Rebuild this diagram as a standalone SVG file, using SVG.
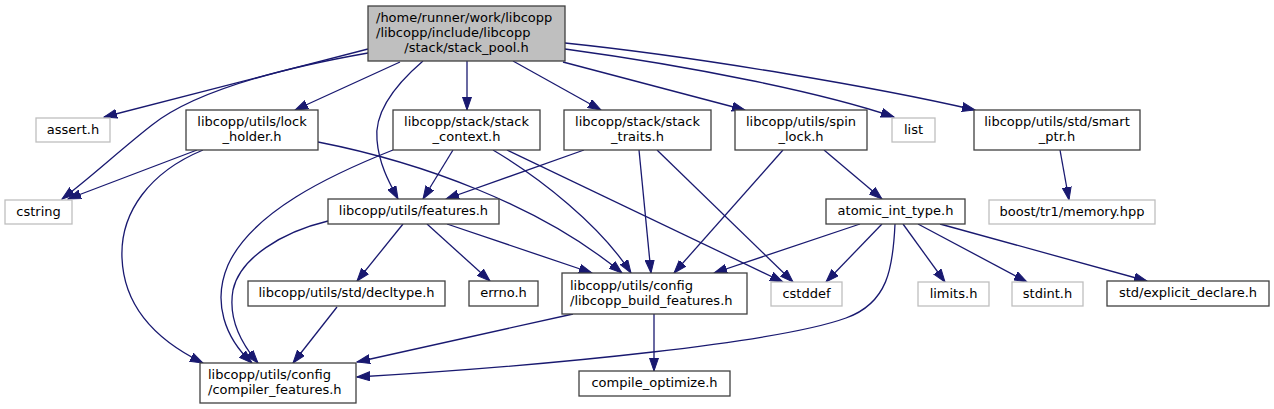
<svg xmlns="http://www.w3.org/2000/svg" width="1274" height="409" viewBox="0 0 1274 409">
<style>
.n rect{fill:#ffffff;stroke:#404040;stroke-width:1.3}
.g rect{fill:#ffffff;stroke:#bfbfbf;stroke-width:1.3}
.r rect{fill:#bfbfbf;stroke:#404040;stroke-width:1.3}
text{font-family:"DejaVu Sans",sans-serif;font-size:13px;fill:#000}
.c{text-anchor:middle}
#edges path{fill:none;stroke:#191970;stroke-width:1.3;marker-end:url(#a)}
</style>
<defs>
<marker id="a" markerWidth="14" markerHeight="10" refX="13" refY="5" orient="auto" markerUnits="userSpaceOnUse">
<path d="M0,0.5 L13,5 L0,9.5 z" fill="#191970" stroke="#191970" stroke-width="1"/>
</marker>
</defs>
<rect width="1274" height="409" fill="#fff"/>
<g id="edges">
<path d="M368,49 L104,117"/>
<path d="M368,53 C260,72 190,95 152,125 C120,150 90,178 62,199"/>
<path d="M400,62 L295,110"/>
<path d="M423,61 C395,85 374,112 377,140 C379,165 390,184 398,199"/>
<path d="M467,61 L467,110"/>
<path d="M513,61 L601,110"/>
<path d="M563,62 L745,110"/>
<path d="M565,49 C690,66 820,92 894,117"/>
<path d="M565,43 C700,57 880,88 975,110"/>
<path d="M197,150 L68,199"/>
<path d="M203,150 C150,172 120,212 122,258 C124,310 160,342 203,363"/>
<path d="M318,142 C420,162 540,205 622,273"/>
<path d="M453,150 L423,199"/>
<path d="M393,150 C330,175 252,212 228,265 C212,302 225,338 252,363"/>
<path d="M493,150 C540,178 600,225 631,273"/>
<path d="M507,150 L783,282"/>
<path d="M584,150 L446,199"/>
<path d="M639,150 L651,273"/>
<path d="M657,150 L793,282"/>
<path d="M783,150 L674,273"/>
<path d="M824,150 L882,199"/>
<path d="M328,221 C282,232 240,258 233,290 C228,318 240,342 258,363"/>
<path d="M403,224 L357,281"/>
<path d="M427,224 L490,281"/>
<path d="M447,224 L592,273"/>
<path d="M337,307 L293,363"/>
<path d="M573,314 L357,362"/>
<path d="M654,314 L654,371"/>
<path d="M860,224 L714,273"/>
<path d="M882,224 L826,282"/>
<path d="M895,224 C893,268 888,303 846,318 C780,342 560,365 357,377"/>
<path d="M903,224 L945,282"/>
<path d="M918,224 L1027,282"/>
<path d="M940,224 L1147,281"/>
<path d="M1060,150 L1069,200"/>
</g>
<g id="root" class="r"><rect x="368" y="6" width="197" height="55"/><text x="376" y="22">/home/runner/work/libcopp</text><text x="376" y="37">/libcopp/include/libcopp</text><text class="c" x="466.5" y="52">/stack/stack_pool.h</text></g>
<g id="assert" class="g"><rect x="36" y="118" width="74" height="24"/><text class="c" x="73" y="134">assert.h</text></g>
<g id="lock_holder" class="n"><rect x="186" y="110" width="132" height="40"/><text class="c" x="252" y="126">libcopp/utils/lock</text><text class="c" x="252" y="141">_holder.h</text></g>
<g id="cstring" class="g"><rect x="5" y="200" width="67" height="24"/><text class="c" x="38.5" y="216">cstring</text></g>
<g id="stack_context" class="n"><rect x="393" y="110" width="147" height="40"/><text class="c" x="466.5" y="126">libcopp/stack/stack</text><text class="c" x="466.5" y="141">_context.h</text></g>
<g id="stack_traits" class="n"><rect x="564" y="110" width="147" height="40"/><text class="c" x="637.5" y="126">libcopp/stack/stack</text><text class="c" x="637.5" y="141">_traits.h</text></g>
<g id="spin_lock" class="n"><rect x="735" y="110" width="132" height="40"/><text class="c" x="801" y="126">libcopp/utils/spin</text><text class="c" x="801" y="141">_lock.h</text></g>
<g id="list" class="g"><rect x="892" y="118" width="43" height="24"/><text class="c" x="913.5" y="134">list</text></g>
<g id="smart_ptr" class="n"><rect x="974" y="110" width="166" height="40"/><text class="c" x="1057" y="126">libcopp/utils/std/smart</text><text class="c" x="1057" y="141">_ptr.h</text></g>
<g id="features" class="n"><rect x="328" y="199" width="171" height="25"/><text class="c" x="413.5" y="215">libcopp/utils/features.h</text></g>
<g id="atomic_int_type" class="n"><rect x="826" y="199" width="139" height="25"/><text class="c" x="895.5" y="215">atomic_int_type.h</text></g>
<g id="boost_memory" class="g"><rect x="989" y="200" width="166" height="24"/><text class="c" x="1072" y="216">boost/tr1/memory.hpp</text></g>
<g id="decltype" class="n"><rect x="248" y="281" width="197" height="25"/><text class="c" x="346.5" y="297">libcopp/utils/std/decltype.h</text></g>
<g id="errno" class="n"><rect x="469" y="281" width="69" height="25"/><text class="c" x="503.5" y="297">errno.h</text></g>
<g id="build_features" class="n"><rect x="562" y="273" width="185" height="41"/><text x="570" y="290">libcopp/utils/config</text><text x="570" y="304.5">/libcopp_build_features.h</text></g>
<g id="cstddef" class="g"><rect x="771" y="282" width="71" height="24"/><text class="c" x="806.5" y="298">cstddef</text></g>
<g id="limits" class="g"><rect x="918" y="282" width="71" height="24"/><text class="c" x="953.5" y="298">limits.h</text></g>
<g id="stdint" class="g"><rect x="1012" y="282" width="71" height="24"/><text class="c" x="1047.5" y="298">stdint.h</text></g>
<g id="explicit_declare" class="n"><rect x="1107" y="281" width="162" height="25"/><text class="c" x="1188" y="297">std/explicit_declare.h</text></g>
<g id="compiler_features" class="n"><rect x="200" y="363" width="156" height="40"/><text x="208" y="378.5">libcopp/utils/config</text><text x="208" y="393.5">/compiler_features.h</text></g>
<g id="compile_optimize" class="n"><rect x="579" y="371" width="151" height="25"/><text class="c" x="654.5" y="387">compile_optimize.h</text></g>
</svg>
